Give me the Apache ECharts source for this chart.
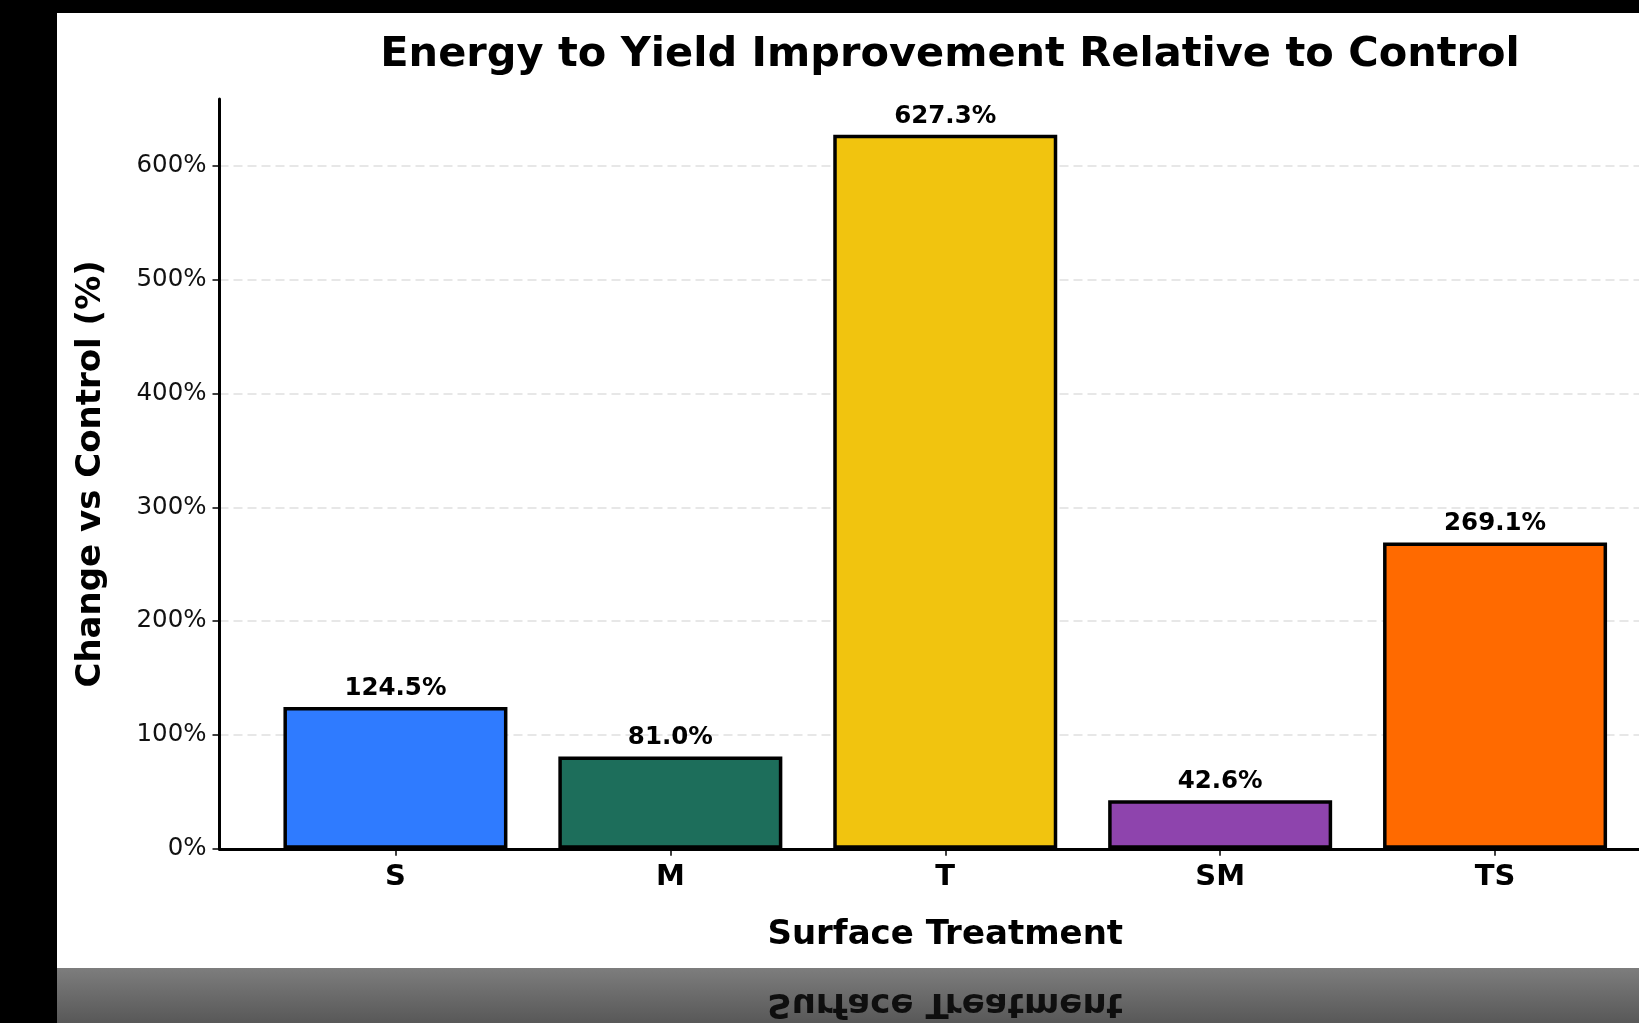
<!DOCTYPE html>
<html>
<head>
<meta charset="utf-8">
<script src="https://cdn.jsdelivr.net/npm/echarts@6/dist/echarts.min.js"></script>
<style>
  html, body { margin: 0; padding: 0; background: #000; }
  #chart { width: 1639px; height: 1023px; }
</style>
</head>
<body>
<div id="chart"></div>
<script>
const categories = ['S', 'M', 'T', 'SM', 'TS'];
const values = [124.5, 81.0, 627.3, 42.6, 269.1];
const barColors = ['#2F7BFF', '#1D6E5B', '#F1C40F', '#8E44AD', '#FF6A00'];
const yTicks = [0, 100, 200, 300, 400, 500, 600];
const xTicks = [0, 1, 2, 3, 4];

const FONT = 'DejaVu Sans';
const chart = echarts.init(document.getElementById('chart'), null, { renderer: 'canvas' });

const barData = values.map((v, i) => ({
  value: [i, v],
  itemStyle: { color: barColors[i] }
}));

chart.setOption({
  backgroundColor: 'transparent',
  animation: false,
  textStyle: { fontFamily: FONT },
  graphic: [
    { type: 'rect', z: -10, silent: true,
      shape: { x: 57, y: 13, width: 1582, height: 955 },
      style: { fill: '#ffffff' } },
    { type: 'rect', z: -10, silent: true,
      shape: { x: 57, y: 968, width: 1582, height: 55 },
      style: { fill: { type: 'linear', x: 0, y: 0, x2: 0, y2: 1,
        colorStops: [{ offset: 0, color: '#7d7d7d' }, { offset: 1, color: '#585858' }] } } },
    { type: 'text', z: -5, silent: true,
      x: 945, y: 1003, scaleY: -1,
      style: { text: 'Surface Treatment', fill: 'rgba(0,0,0,0.85)',
        font: 'bold 34px "DejaVu Sans"', align: 'center', verticalAlign: 'middle' } }
  ],
  title: {
    text: 'Energy to Yield Improvement Relative to Control',
    left: 945, textAlign: 'center', top: 29,
    textStyle: { fontFamily: FONT, fontWeight: 'bold', fontSize: 41.5, color: '#000' }
  },
  grid: { left: 219.5, width: 1451.5, top: 99, height: 749.8, containLabel: false, outerBoundsMode: 'none' },
  xAxis: {
    type: 'value', min: -0.64, max: 4.64,
    name: 'Surface Treatment', nameLocation: 'middle', nameGap: 69,
    nameTextStyle: { fontFamily: FONT, fontWeight: 'bold', fontSize: 34, color: '#000' },
    axisLine: { show: true, onZero: false, lineStyle: { color: '#000', width: 3 } },
    axisTick: { show: true, length: 7, lineStyle: { color: '#000', width: 1.5 }, customValues: xTicks },
    axisLabel: { show: true, margin: 14, fontFamily: FONT, fontWeight: 'bold', fontSize: 29, color: '#000',
      customValues: xTicks, formatter: v => categories[Math.round(v)] },
    splitLine: { show: false }
  },
  yAxis: {
    type: 'value', min: 0, max: 658.7, interval: 100,
    name: 'Change vs Control (%)', nameLocation: 'middle', nameGap: 111,
    nameTextStyle: { fontFamily: FONT, fontWeight: 'bold', fontSize: 34, color: '#000' },
    axisLine: { show: true, onZero: false, lineStyle: { color: '#000', width: 3 } },
    axisTick: { show: true, length: 7, lineStyle: { color: '#000', width: 1.5 }, customValues: yTicks },
    axisLabel: { margin: 13, fontFamily: FONT, fontSize: 24.5, color: '#111',
      customValues: yTicks, formatter: v => v + '%' },
    splitLine: { show: true,
      lineStyle: { color: '#e0e0e0', width: 1.5, type: [9, 5] } }
  },
  series: [{
    type: 'bar',
    data: barData,
    barWidth: 224,
    itemStyle: { borderColor: '#000', borderWidth: 3.5 },
    label: {
      show: true, position: 'top', distance: 6,
      fontFamily: FONT, fontWeight: 'bold', fontSize: 24.5, color: '#000',
      formatter: p => p.value[1].toFixed(1) + '%'
    }
  }]
});
</script>
</body>
</html>
